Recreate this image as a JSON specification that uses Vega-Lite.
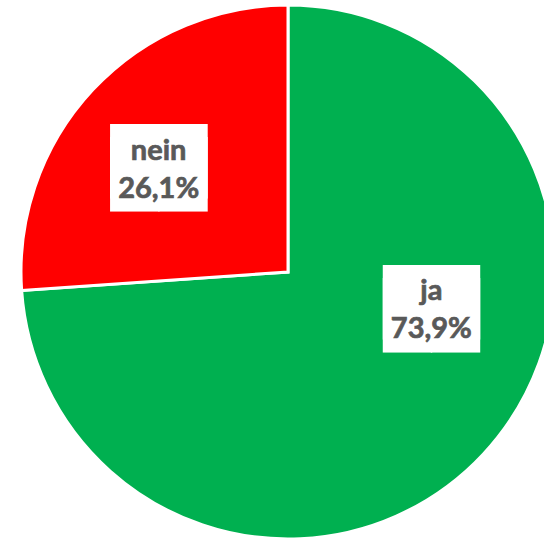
{
  "$schema": "https://vega.github.io/schema/vega-lite/v6.json",
  "width": 576,
  "height": 544,
  "autosize": "none",
  "padding": 0,
  "background": "white",
  "view": {"stroke": null},
  "data": {
    "values": [
      {"cat": "ja", "value": 73.9, "label": ["ja", "73,9%"]},
      {"cat": "nein", "value": 26.1, "label": ["nein", "26,1%"]}
    ]
  },
  "encoding": {
    "theta": {"field": "value", "type": "quantitative", "stack": true},
    "order": {"field": "cat", "type": "nominal", "sort": "ascending"}
  },
  "layer": [
    {
      "mark": {"type": "arc", "outerRadius": 267, "stroke": "white", "strokeWidth": 3},
      "encoding": {
        "color": {
          "field": "cat",
          "type": "nominal",
          "scale": {"domain": ["ja", "nein"], "range": ["#00B050", "#FF0000"]},
          "legend": null
        }
      }
    },
    {
      "mark": {"type": "text", "radius": 166, "dx": 22, "dy": -80.5, "font": "DejaVu Sans", "fontSize": 62.6, "lineHeight": 13.5, "color": "white", "baseline": "middle", "align": "center"},
      "encoding": {
        "text": {"condition": {"test": "datum.cat === 'ja'", "value": ["██", "██"]}, "value": ""}
      }
    },
    {
      "mark": {"type": "text", "radius": 166, "dx": -8, "dy": 5, "font": "DejaVu Sans", "fontSize": 62.6, "lineHeight": 13.5, "color": "white", "baseline": "middle", "align": "center"},
      "encoding": {
        "text": {"condition": {"test": "datum.cat === 'nein'", "value": ["██", "██"]}, "value": ""}
      }
    },
    {
      "mark": {"type": "text", "radius": 166, "dx": 22, "dy": -94, "font": "Lato", "fontWeight": "bold", "fontSize": 29, "lineHeight": 38, "color": "#595959", "stroke": "#595959", "strokeWidth": 0.7, "baseline": "middle", "align": "center"},
      "encoding": {
        "text": {"condition": {"test": "datum.cat === 'ja'", "field": "label"}, "value": ""}
      }
    },
    {
      "mark": {"type": "text", "radius": 166, "dx": -8, "dy": -8, "font": "Lato", "fontWeight": "bold", "fontSize": 29, "lineHeight": 38, "color": "#595959", "stroke": "#595959", "strokeWidth": 0.7, "baseline": "middle", "align": "center"},
      "encoding": {
        "text": {"condition": {"test": "datum.cat === 'nein'", "field": "label"}, "value": ""}
      }
    }
  ]
}
